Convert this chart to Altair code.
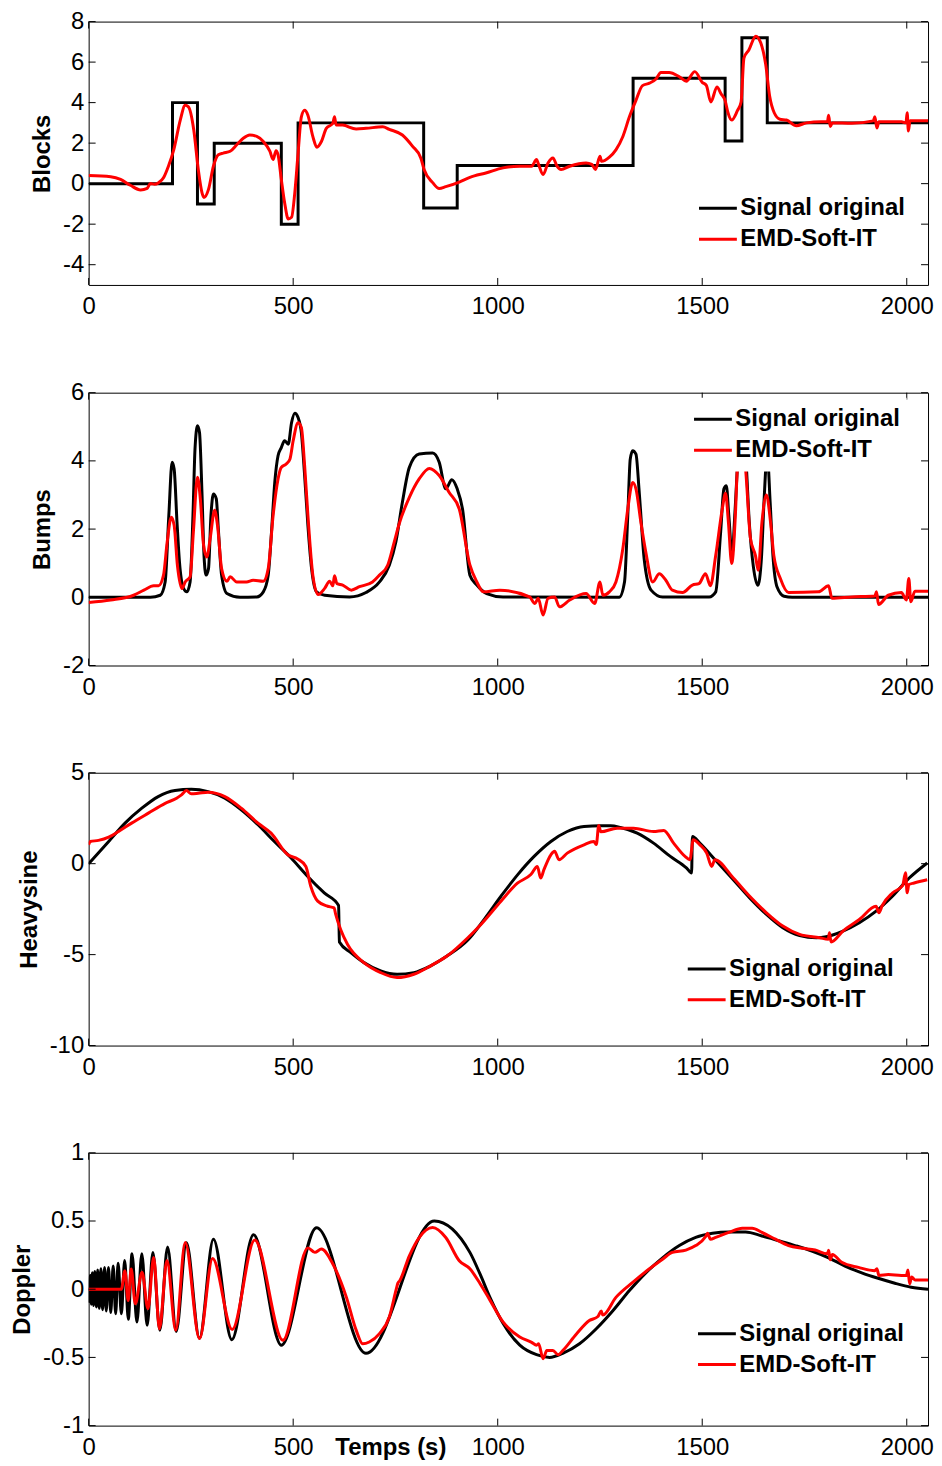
import altair as alt
import pandas as pd

FONT = "Liberation Sans"
SERIES = ["Signal original", "EMD-Soft-IT"]
COLORS = ["#000000", "#ff0000"]
X_DOMAIN = [0, 2052]
X_TICKS = [0, 500, 1000, 1500, 2000]

# ---------------- Blocks ----------------
blocks_orig_x = [0, 205, 266, 307, 471, 512, 819, 901, 1331, 1556, 1597, 1659, 2052]
blocks_orig_y = [0, 4, -1, 2, -2, 3, -1.2, 0.9, 5.2, 2.1, 7.2, 3.0, 3.0]
blocks_emd_x = [0, 54, 78, 102, 127, 143, 151, 161, 171, 183, 195, 208, 224, 236, 244, 257, 268, 277,
                282, 293, 305, 317, 329, 346, 362, 378, 394, 411, 427, 443, 451, 458, 463, 471, 479,
                488, 496, 504, 512, 520, 528, 536, 548, 558, 569, 581, 597, 601, 605, 621, 654, 678,
                719, 735, 767, 792, 812, 820, 841, 857, 873, 906, 932, 973, 1013, 1054, 1083, 1095,
                1099, 1111, 1123, 1135, 1145, 1155, 1176, 1216, 1230, 1239, 1250, 1254, 1273, 1289,
                1306, 1322, 1338, 1354, 1371, 1387, 1399, 1419, 1444, 1461, 1482, 1500, 1510, 1521,
                1536, 1546, 1556, 1563, 1572, 1586, 1595, 1602, 1614, 1631, 1643, 1655, 1665, 1676,
                1690, 1706, 1730, 1755, 1790, 1806, 1809, 1813, 1818, 1866, 1918, 1922, 1927, 1932,
                1987, 1998, 2001, 2004, 2008, 2052]
blocks_emd_y = [0.40, 0.34, 0.21, -0.08, -0.31, -0.23, 0.01, -0.03, 0.05, 0.29, 0.86, 1.67, 3.14, 3.87,
                3.79, 2.65, 0.70, -0.44, -0.68, -0.28, 0.86, 1.43, 1.51, 1.60, 1.92, 2.24, 2.40, 2.33,
                2.08, 1.60, 1.19, 1.63, 1.43, 0.21, -0.93, -1.74, -1.66, -0.44, 1.51, 3.30, 3.62, 3.38,
                2.33, 1.80, 2.08, 2.73, 2.98, 3.30, 2.90, 2.89, 2.70, 2.73, 2.81, 2.68, 2.40, 1.84,
                1.27, 0.70, 0.05, -0.24, -0.15, 0.08, 0.31, 0.54, 0.78, 0.86, 0.86, 1.19, 1.00, 0.45,
                1.02, 1.27, 0.86, 0.70, 0.86, 1.02, 0.95, 0.70, 1.35, 1.10, 1.31, 1.67, 2.33, 3.30,
                4.11, 4.84, 4.96, 5.17, 5.49, 5.49, 5.28, 5.06, 5.53, 5.00, 4.85, 4.03, 4.77, 4.44,
                4.10, 3.50, 3.14, 3.60, 4.03, 6.20, 6.60, 7.28, 6.95, 5.90, 4.30, 3.50, 3.18, 3.14,
                2.86, 3.00, 3.05, 3.05, 3.38, 2.82, 3.00, 2.98, 3.10, 3.30, 2.75, 3.05, 3.06, 3.00,
                3.50, 2.60, 3.10, 3.10]

# ---------------- Bumps ----------------
bumps_orig_x = [0, 151, 175, 187, 196, 204, 209, 216, 222, 232, 240, 248, 255, 260, 266, 271, 277, 282,
                287, 293, 299, 305, 312, 317, 325, 338, 370, 411, 427, 439, 447, 455, 463, 471, 479,
                488, 496, 504, 512, 520, 528, 536, 545, 557, 577, 638, 678, 711, 735, 751, 767, 784,
                808, 841, 857, 873, 888, 901, 914, 932, 949, 973, 1013, 1297, 1310, 1318, 1324, 1330,
                1338, 1346, 1358, 1375, 1403, 1517, 1533, 1545, 1553, 1559, 1565, 1573, 1580, 1587,
                1597, 1607, 1615, 1625, 1636, 1645, 1651, 1659, 1666, 1673, 1683, 1700, 1720, 2052]
bumps_orig_y = [0, 0, 0.06, 0.45, 2.4, 3.96, 3.76, 2.2, 1.04, 0.26, 0.16, 0.45, 2.4, 4.35, 5.03, 4.83,
                3.08, 1.23, 0.65, 0.84, 2.4, 3.03, 2.89, 2.01, 0.65, 0.11, 0, 0.01, 0.16, 0.65, 1.91,
                3.37, 4.15, 4.39, 4.59, 4.49, 5.12, 5.40, 5.27, 4.83, 3.57, 2.11, 0.84, 0.16, 0.06,
                0.01, 0.14, 0.45, 0.94, 1.62, 2.79, 3.81, 4.20, 4.23, 3.96, 3.18, 3.45, 3.18, 2.59,
                0.65, 0.36, 0.11, 0.01, 0, 0.45, 2.4, 4.05, 4.30, 4.2, 3.08, 1.13, 0.21, 0.01, 0.01,
                0.16, 1.91, 3.18, 3.27, 2.4, 1.25, 2.5, 4.0, 5.1, 4.0, 2.2, 0.9, 0.35, 1.2, 2.8, 4.2,
                2.8, 1.2, 0.3, 0.03, 0, 0]
bumps_emd_x = [0, 54, 110, 135, 159, 171, 183, 192, 202, 209, 217, 228, 236, 248, 256, 266, 273, 281,
               289, 297, 308, 315, 325, 338, 346, 362, 386, 402, 427, 439, 451, 463, 471, 483, 492,
               500, 512, 520, 528, 536, 548, 561, 577, 589, 597, 601, 607, 621, 642, 662, 694, 711,
               731, 747, 759, 784, 808, 833, 857, 881, 906, 932, 949, 965, 1005, 1078, 1091, 1099,
               1111, 1123, 1139, 1151, 1176, 1216, 1237, 1250, 1257, 1273, 1289, 1306, 1318, 1330,
               1338, 1350, 1362, 1379, 1395, 1411, 1427, 1452, 1476, 1492, 1508, 1520, 1533, 1549,
               1557, 1564, 1572, 1581, 1586, 1597, 1606, 1618, 1630, 1637, 1646, 1657, 1667, 1675,
               1691, 1711, 1784, 1809, 1817, 1866, 1922, 1926, 1931, 1955, 1987, 1999, 2005, 2010,
               2020, 2052]
bumps_emd_y = [-0.15, -0.08, 0.06, 0.21, 0.34, 0.34, 0.65, 1.62, 2.35, 2.11, 0.94, 0.26, 0.45, 0.60,
               1.91, 3.52, 2.89, 1.52, 1.18, 1.72, 2.55, 2.11, 0.84, 0.47, 0.60, 0.45, 0.45, 0.50,
               0.47, 0.84, 2.40, 3.47, 3.81, 3.91, 4.05, 4.59, 5.12, 4.98, 3.86, 2.40, 0.65, 0.08,
               0.26, 0.47, 0.34, 0.63, 0.40, 0.36, 0.21, 0.31, 0.45, 0.65, 0.94, 1.62, 2.15, 2.93,
               3.47, 3.78, 3.57, 3.08, 2.59, 0.95, 0.45, 0.16, 0.21, 0.01, -0.18, -0.03, -0.52,
               -0.03, 0.01, -0.28, -0.08, 0.11, -0.18, 0.45, 0.06, 0.16, 0.45, 1.43, 2.59, 3.37,
               3.18, 2.20, 1.33, 0.45, 0.69, 0.50, 0.21, 0.14, 0.36, 0.40, 0.69, 0.34, 1.23, 2.59,
               3.05, 2.20, 0.99, 2.40, 3.81, 4.6, 3.76, 1.72, 1.23, 0.79, 2.20, 3.00, 2.20, 1.23,
               0.55, 0.14, 0.16, 0.34, -0.03, 0.01, 0.04, 0.16, -0.21, 0.06, 0.14, -0.08, 0.55,
               -0.13, 0.18, 0.18]

# ---------------- Heavysine ----------------
heavy_orig_x = [0, 49, 89, 130, 170, 211, 251, 292, 333, 373, 414, 454, 495, 535, 576, 611, 613, 641,
                673, 714, 754, 795, 835, 876, 927, 968, 1008, 1049, 1089, 1130, 1170, 1211, 1251, 1276,
                1300, 1341, 1381, 1422, 1462, 1474, 1476, 1494, 1535, 1576, 1616, 1657, 1697, 1738,
                1779, 1803, 1844, 1884, 1925, 1965, 2006, 2050]
heavy_orig_y = [0, 1.22, 2.23, 3.05, 3.69, 4.02, 4.09, 3.96, 3.60, 2.96, 2.14, 1.22, 0.31, -0.69, -1.61,
                -2.30, -4.31, -4.89, -5.44, -5.90, -6.08, -5.99, -5.63, -5.08, -4.20, -3.03, -1.79,
                -0.60, 0.40, 1.22, 1.77, 2.05, 2.08, 2.08, 1.99, 1.68, 1.13, 0.40, -0.24, -0.51, 1.50,
                1.13, 0.13, -0.88, -1.88, -2.79, -3.52, -3.95, -4.07, -4.02, -3.71, -3.25, -2.61,
                -1.79, -0.79, 0.04]
heavy_emd_x = [0, 4, 24, 49, 73, 105, 146, 187, 215, 227, 239, 251, 268, 292, 333, 373, 414, 446, 487,
               511, 531, 543, 560, 584, 600, 604, 616, 633, 673, 714, 754, 795, 835, 876, 927, 959,
               1008, 1049, 1081, 1097, 1105, 1113, 1130, 1139, 1150, 1170, 1211, 1235, 1241, 1247,
               1252, 1292, 1332, 1381, 1406, 1430, 1458, 1470, 1478, 1494, 1511, 1523, 1531, 1576,
               1616, 1657, 1697, 1738, 1787, 1808, 1811, 1815, 1844, 1884, 1925, 1932, 1940, 1965,
               1990, 1997, 2001, 2005, 2018, 2050]
heavy_emd_y = [1.04, 1.22, 1.28, 1.46, 1.77, 2.23, 2.78, 3.32, 3.60, 3.78, 4.02, 3.84, 3.87, 3.93, 3.69,
               3.05, 2.23, 1.68, 0.49, 0.26, -0.15, -1.24, -2.06, -2.34, -2.43, -2.79, -3.62, -4.44,
               -5.44, -5.99, -6.26, -6.08, -5.63, -5.08, -4.07, -3.34, -2.06, -1.06, -0.60, -0.15,
               -0.79, -0.33, 0.49, 0.68, 0.22, 0.58, 1.04, 1.22, 1.05, 2.10, 1.75, 1.95, 1.95, 1.77,
               1.83, 1.13, 0.40, 0.22, 1.32, 1.04, 0.58, -0.15, 0.22, -0.79, -1.79, -2.70, -3.43,
               -3.89, -4.07, -4.16, -3.80, -4.30, -3.71, -3.07, -2.34, -2.70, -2.30, -1.61, -1.20,
               -0.50, -1.60, -1.15, -1.06, -0.88]

# ---------------- Doppler ----------------
doppler_orig_x = [0, 1, 4, 6.5, 9, 12, 15, 19, 22, 26, 30, 34, 39, 43, 48.5, 54, 60, 66, 72, 80, 88, 97,
                  106, 118, 130, 143, 157, 174, 193, 214, 239, 271, 305, 350, 403, 471, 557, 678, 845,
                  932, 957, 981, 1013, 1054, 1095, 1127, 1159, 1200, 1241, 1281, 1322, 1362, 1403,
                  1444, 1484, 1525, 1565, 1606, 1646, 1687, 1727, 1768, 1809, 1849, 1890, 1930, 1971,
                  2011, 2052]
doppler_orig_y = [0, -0.09, 0.10, -0.11, 0.12, -0.12, 0.13, -0.13, 0.14, -0.14, 0.15, -0.15, 0.16,
                  -0.16, 0.16, -0.17, 0.17, -0.18, 0.19, -0.18, 0.21, -0.22, 0.26, -0.24, 0.26, -0.265,
                  0.27, -0.30, 0.31, -0.31, 0.34, -0.36, 0.367, -0.37, 0.40, -0.41, 0.45, -0.47, 0.50,
                  0.27, 0.11, -0.06, -0.25, -0.41, -0.48, -0.50, -0.47, -0.40, -0.29, -0.16, -0.01,
                  0.12, 0.23, 0.32, 0.38, 0.41, 0.42, 0.42, 0.39, 0.355, 0.32, 0.28, 0.23, 0.17, 0.12,
                  0.08, 0.044, 0.015, 0.0]
doppler_emd_x = [0, 80, 88.5, 96.6, 104, 114, 130.6, 145, 159, 173, 191.5, 213, 236, 271, 303, 351, 406,
                 475, 536, 553, 569, 597, 630, 654, 670, 686, 711, 735, 752, 756, 760, 784, 808, 841,
                 873, 906, 932, 957, 981, 1013, 1054, 1083, 1095, 1100, 1111, 1120, 1135, 1148, 1159,
                 1192, 1224, 1245, 1253, 1257, 1289, 1330, 1371, 1403, 1427, 1460, 1484, 1508, 1513,
                 1520, 1533, 1565, 1598, 1622, 1646, 1679, 1711, 1744, 1776, 1806, 1809, 1813, 1818,
                 1841, 1882, 1922, 1927, 1932, 1955, 1987, 1999, 2003, 2007, 2012, 2020, 2052]
doppler_emd_y = [0, 0, 0.136, -0.083, 0.148, -0.107, 0.124, -0.143, 0.233, -0.29, 0.21, -0.30, 0.343,
                 -0.362, 0.225, -0.295, 0.36, -0.375, 0.303, 0.27, 0.294, 0.185, -0.058, -0.30, -0.40,
                 -0.387, -0.326, -0.204, 0.0, 0.045, 0.06, 0.245, 0.379, 0.452, 0.379, 0.209, 0.15,
                 0.04, -0.08, -0.24, -0.35, -0.39, -0.41, -0.40, -0.51, -0.45, -0.45, -0.48, -0.45,
                 -0.33, -0.23, -0.20, -0.16, -0.19, -0.06, 0.05, 0.15, 0.22, 0.27, 0.287, 0.32, 0.384,
                 0.41, 0.367, 0.38, 0.416, 0.447, 0.447, 0.416, 0.367, 0.32, 0.30, 0.287, 0.26, 0.285,
                 0.215, 0.255, 0.197, 0.16, 0.136, 0.15, 0.10, 0.107, 0.10, 0.10, 0.14, 0.04, 0.09,
                 0.068, 0.068]

W = 843
TICK = 7


def lab_expr():
    return "'' + datum.value"


def make_panel(name, xo, yo, xr, yr, ydom, yticks, h, lx, ly, black_interp, xtitle=None):
    xs = alt.Scale(domain=X_DOMAIN, nice=False, zero=False)
    ys = alt.Scale(domain=ydom, nice=False, zero=False)
    cs = alt.Scale(domain=SERIES, range=COLORS)
    xkw = dict(values=X_TICKS, labelExpr=lab_expr(), ticks=False, domain=False, grid=False,
               labelFontSize=24, labelFont=FONT, labelColor="black", labelPadding=10,
               labelFlush=False)
    if xtitle:
        xaxis = alt.Axis(title=xtitle, titleFontSize=24, titleFont=FONT, titleFontWeight="bold",
                         titleColor="black", titleX=303, titleY=28.7, titleBaseline="alphabetic",
                         titleAlign="center", **xkw)
    else:
        xaxis = alt.Axis(title=None, **xkw)
    yaxis = alt.Axis(title=name, values=yticks, labelExpr=lab_expr(), ticks=False, domain=False,
                     grid=False, labelFontSize=24, labelFont=FONT, labelColor="black",
                     labelPadding=5, labelFlush=False, titleFontSize=24, titleFont=FONT,
                     titleFontWeight="bold", titleColor="black", titlePadding=8)
    legend = alt.Legend(title=None, orient="none", legendX=lx, legendY=ly, symbolType="stroke",
                        symbolSize=1444, symbolStrokeWidth=3, labelFontSize=24, labelFont=FONT,
                        labelFontWeight="bold", labelColor="black", clipHeight=31, rowPadding=0,
                        padding=6, fillColor="white", labelOffset=2, symbolOffset=0,
                        labelLimit=400)
    df_o = pd.DataFrame({"x": xo, "y": yo, "s": SERIES[0]})
    df_r = pd.DataFrame({"x": xr, "y": yr, "s": SERIES[1]})
    X = alt.X("x:Q", scale=xs, axis=xaxis)
    Y = alt.Y("y:Q", scale=ys, axis=yaxis)
    C = alt.Color("s:N", scale=cs, legend=legend)
    orig = alt.Chart(df_o).mark_line(interpolate=black_interp, strokeWidth=3, clip=True).encode(
        x=X, y=Y, color=C)
    emd = alt.Chart(df_r).mark_line(interpolate="monotone", strokeWidth=3, clip=True).encode(
        x=X, y=Y, color=C)
    xt = pd.DataFrame({"x": X_TICKS})
    yt = pd.DataFrame({"y": yticks})
    rule = dict(color="black", strokeWidth=1)
    xt_top = alt.Chart(xt).mark_rule(**rule).encode(x=X, y=alt.value(0), y2=alt.value(TICK))
    xt_bot = alt.Chart(xt).mark_rule(**rule).encode(x=X, y=alt.value(h - TICK), y2=alt.value(h))
    yt_left = alt.Chart(yt).mark_rule(**rule).encode(y=Y, x=alt.value(0), x2=alt.value(TICK))
    yt_right = alt.Chart(yt).mark_rule(**rule).encode(y=Y, x=alt.value(W - TICK), x2=alt.value(W))
    return alt.layer(orig, emd, xt_top, xt_bot, yt_left, yt_right).properties(width=W, height=h)


p1 = make_panel("Blocks", blocks_orig_x, blocks_orig_y, blocks_emd_x, blocks_emd_y,
                [-5, 8], [-4, -2, 0, 2, 4, 6, 8], 264.5, 605.5, 166, "step-after")
p2 = make_panel("Bumps", bumps_orig_x, bumps_orig_y, bumps_emd_x, bumps_emd_y,
                [-2, 6], [-2, 0, 2, 4, 6], 274, 600.5, 5.2, "monotone")
p3 = make_panel("Heavysine", heavy_orig_x, heavy_orig_y, heavy_emd_x, heavy_emd_y,
                [-10, 5], [-10, -5, 0, 5], 274, 594.2, 175.5, "monotone")
p4 = make_panel("Doppler", doppler_orig_x, doppler_orig_y, doppler_emd_x, doppler_emd_y,
                [-1, 1], [-1, -0.5, 0, 0.5, 1], 274, 604.5, 160.2, "monotone", xtitle="Temps (s)")

chart = (
    alt.vconcat(p1, p2, p3, p4, spacing=107.7, bounds="flush")
    .resolve_scale(color="independent", x="independent", y="independent")
    .resolve_legend(color="independent")
    .properties(padding={"left": 2, "top": -2.5, "right": 0, "bottom": 0}, background="white")
    .configure_view(stroke="black", strokeWidth=1)
)

chart.save("out.html", embed_options={"renderer": "svg", "actions": False})
